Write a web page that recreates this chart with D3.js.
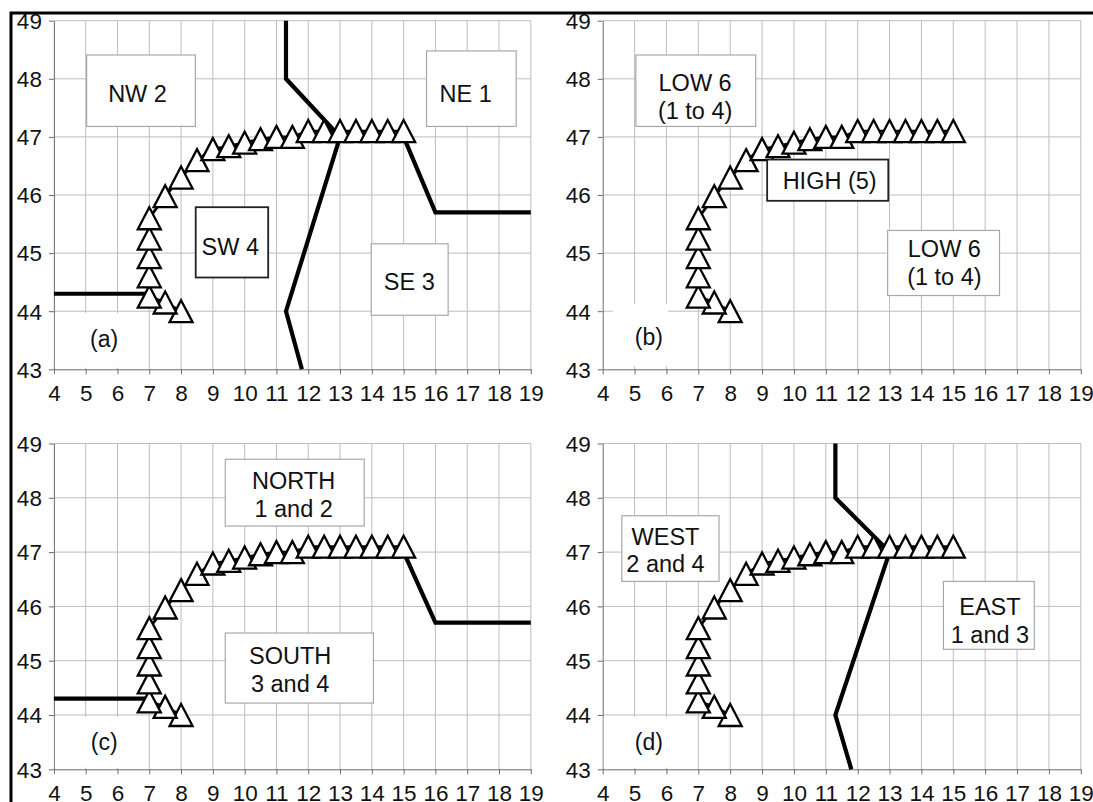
<!DOCTYPE html>
<html><head><meta charset="utf-8">
<script src="https://cdn.jsdelivr.net/npm/d3@7"></script>
<style>
body{margin:0;background:#fff}
svg{display:block}
text{font-family:"Liberation Sans",Arial,Helvetica,sans-serif;fill:#111}
</style>
</head><body>
<svg id="chart" width="1093" height="802"></svg>
<script>
// ---------- data ----------
const xTicks = [4,5,6,7,8,9,10,11,12,13,14,15,16,17,18,19];
const yTicks = [43,44,45,46,47,48,49];

// storm track (triangles)
const trackX = [8,7.5,7,7,7,7,7,7.5,8,8.5,9,9.5,10,10.5,11,11.5,12,12.5,13,13.5,14,14.5,15];
const trackY = [44.0,44.15,44.25,44.6,44.93,45.25,45.6,45.98,46.3,46.6,46.79,46.84,46.9,46.96,47.0,47.0,47.1,47.1,47.1,47.1,47.1,47.1,47.1];

// north-south boundary
const nsX = [11.3,11.3,13,11.3,11.8];
const nsY = [49,48,47,44,43];
// east-west boundary (west part and east part)
const ewWestX = [4,7];
const ewWestY = [44.3,44.3];
const ewEastX = [15,16,19];
const ewEastY = [47,45.7,45.7];

const panelLetters = ["(a)","(b)","(c)","(d)"];

// region labels: text lines per panel
const notesA = [["NW 2"],["NE 1"],["SW 4"],["SE 3"]];
const notesB = [["LOW 6","(1 to 4)"],["HIGH (5)"],["LOW 6","(1 to 4)"]];
const notesC = [["NORTH","1 and 2"],["SOUTH","3 and 4"]];
const notesD = [["WEST","2 and 4"],["EAST","1 and 3"]];

// ---------- layout ----------
const panels = [
  {left:53.9,right:530.8,top:20.7,bottom:369.3, lines:["ns","ewW","ewE"],
   letter:[5.58,43.52], letterBox:[4.03,6.95,43.97,43.03],
   notes:notesA,
   place:[{cx:6.63,cy:[47.75],box:[5.03,8.45,48.41,47.18],dark:false},
          {cx:16.95,cy:[47.75],box:[15.72,18.54,48.48,47.18],dark:false},
          {cx:9.55,cy:[45.11],box:[8.46,10.74,45.79,44.58],dark:true},
          {cx:15.18,cy:[44.51],box:[13.98,16.4,45.16,43.93],dark:false}]},
  {left:602.7,right:1080.8,top:20.7,bottom:369.3, lines:[],
   letter:[5.45,43.56], letterBox:[4.32,6.05,44.12,43.05],
   notes:notesB,
   place:[{cx:6.9,cy:[47.93,47.45],box:[5.04,8.8,48.41,47.18],dark:false},
          {cx:11.12,cy:[46.24],box:[9.16,12.96,46.61,45.9],dark:true},
          {cx:14.72,cy:[45.08,44.59],box:[12.94,16.45,45.39,44.27],dark:false}]},
  {left:53.9,right:530.8,top:443.5,bottom:769.3, lines:["ewW","ewE"],
   letter:[5.58,43.51], letterBox:[4.03,6.95,43.97,43.03],
   notes:notesC,
   place:[{cx:11.54,cy:[48.31,47.79],box:[9.39,13.76,48.71,47.48],dark:false},
          {cx:11.43,cy:[45.09,44.58],box:[9.39,14.05,45.51,44.22],dark:false}]},
  {left:602.7,right:1080.8,top:443.5,bottom:769.3, lines:["ns"],
   letter:[5.45,43.51], letterBox:[4.03,6.95,43.97,43.03],
   notes:notesD,
   place:[{cx:5.97,cy:[47.28,46.78],box:[4.6,7.65,47.67,46.46],dark:false},
          {cx:16.15,cy:[46.0,45.48],box:[14.69,17.54,46.46,45.21],dark:false}]}
];

const svg = d3.select("#chart");
svg.append("rect").attr("width",1093).attr("height",802).attr("fill","#fff");

const lineSets = {
  ns: nsX.map((v,i)=>[v,nsY[i]]),
  ewW: ewWestX.map((v,i)=>[v,ewWestY[i]]),
  ewE: ewEastX.map((v,i)=>[v,ewEastY[i]])
};
const track = trackX.map((v,i)=>[v,trackY[i]]);
const triW = 23, triH = 22;
const triPath = `M0,${-triH/2}L${triW/2},${triH/2}L${-triW/2},${triH/2}Z`;

panels.forEach((p,pi)=>{
  const x = d3.scaleLinear().domain([4,19]).range([p.left,p.right]);
  const y = d3.scaleLinear().domain([43,49]).range([p.bottom,p.top]);
  const g = svg.append("g");

  // gridlines
  g.selectAll("line.gx").data(xTicks.slice(1)).join("line")
    .attr("x1",d=>x(d)).attr("x2",d=>x(d)).attr("y1",y(43)).attr("y2",y(49))
    .attr("stroke","#bdbdbd").attr("stroke-width",1);
  g.selectAll("line.gy").data(yTicks.slice(1)).join("line")
    .attr("x1",x(4)).attr("x2",x(19)).attr("y1",d=>y(d)).attr("y2",d=>y(d))
    .attr("stroke","#bdbdbd").attr("stroke-width",1);

  // axes
  const ax = g.append("g").attr("transform",`translate(0,${p.bottom})`)
    .call(d3.axisBottom(x).tickValues(xTicks).tickSize(5).tickSizeOuter(0).tickFormat(d3.format("d")));
  ax.selectAll("text").attr("y",24).attr("dy","0.35em");
  const ay = g.append("g").attr("transform",`translate(${p.left},0)`)
    .call(d3.axisLeft(y).tickValues(yTicks).tickSize(5).tickSizeOuter(0).tickFormat(d3.format("d")));
  ay.selectAll("text").attr("x",-12).attr("dy","0.35em");
  [ax,ay].forEach(a=>{
    a.attr("font-family",null).attr("font-size",null);
    a.selectAll("text").style("font-size","22.5px").attr("fill","#111");
    a.selectAll("path,line").attr("stroke","#6a6a6a");
  });

  // white box behind panel letter
  const lb = p.letterBox;
  g.append("rect").attr("x",x(lb[0])).attr("y",y(lb[2]))
    .attr("width",x(lb[1])-x(lb[0])).attr("height",y(lb[3])-y(lb[2])).attr("fill","#fff");
  g.append("text").attr("x",x(p.letter[0])).attr("y",y(p.letter[1])).attr("dy","0.35em")
    .attr("text-anchor","middle").style("font-size","23px").text(panelLetters[pi]);

  // boundary lines
  const lg = d3.line().x(d=>x(d[0])).y(d=>y(d[1]));
  p.lines.forEach(k=>{
    g.append("path").attr("d",lg(lineSets[k])).attr("fill","none")
      .attr("stroke","#000").attr("stroke-width",4.2).attr("stroke-linejoin","miter");
  });

  // track line + triangles
  g.append("path").attr("d",lg(track)).attr("fill","none").attr("stroke","#000").attr("stroke-width",2.8);
  g.selectAll("path.tri").data(track).join("path").attr("class","tri")
    .attr("transform",d=>`translate(${x(d[0])},${y(d[1])})`)
    .attr("d",triPath).attr("fill","#fff").attr("stroke","#000").attr("stroke-width",2.3)
    .attr("stroke-linejoin","miter");

  // region notes
  p.notes.forEach((lines,ni)=>{
    const pl = p.place[ni];
    const b = pl.box;
    g.append("rect").attr("x",x(b[0])).attr("y",y(b[2]))
      .attr("width",x(b[1])-x(b[0])).attr("height",y(b[3])-y(b[2]))
      .attr("fill","#fff").attr("stroke",pl.dark?"#222":"#a8a8a8").attr("stroke-width",pl.dark?1.8:1.2);
    lines.forEach((t,li)=>{
      g.append("text").attr("x",x(pl.cx)).attr("y",y(pl.cy[li])).attr("dy","0.35em")
        .attr("text-anchor","middle").style("font-size","23.5px").text(t);
    });
  });
});

// outer frame (top and left)
svg.append("path").attr("d","M11,802V13H1093").attr("fill","none").attr("stroke","#000").attr("stroke-width",3);
</script>
</body></html>
